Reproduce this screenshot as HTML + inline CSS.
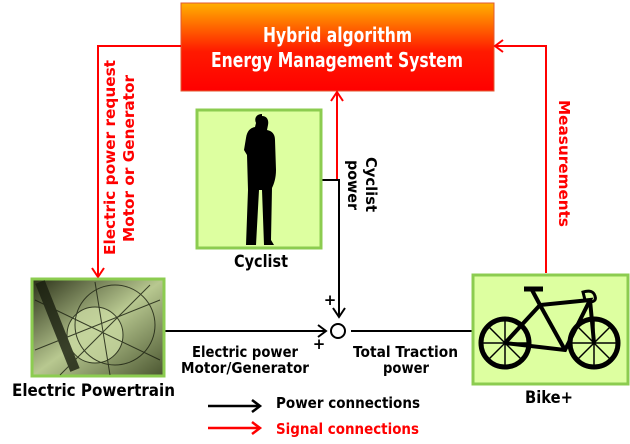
<!DOCTYPE html>
<html><head><meta charset="utf-8"><style>
html,body{margin:0;padding:0;background:#fff;width:630px;height:444px;overflow:hidden}
text{font-family:"DejaVu Sans","Liberation Sans",sans-serif;font-weight:bold}
</style></head><body>
<svg width="630" height="444" viewBox="0 0 630 444" xmlns="http://www.w3.org/2000/svg">
<defs>
<linearGradient id="g" x1="0" y1="0" x2="0" y2="1">
<stop offset="0" stop-color="#ffb000"/><stop offset="0.55" stop-color="#ff1a00"/><stop offset="1" stop-color="#ff0000"/></linearGradient>
<linearGradient id="pt" x1="0" y1="0" x2="1" y2="1">
<stop offset="0" stop-color="#2a3018"/><stop offset="0.5" stop-color="#b8c890"/><stop offset="1" stop-color="#4a5530"/></linearGradient>
</defs>
<rect x="181" y="3" width="313" height="88" fill="url(#g)" stroke="#e05a30" stroke-width="1"/>
<text x="263" y="42" fill="#fff" font-size="20" textLength="149" lengthAdjust="spacingAndGlyphs" font-family="Liberation Sans">Hybrid algorithm</text>
<text x="211" y="67" fill="#fff" font-size="20" textLength="252" lengthAdjust="spacingAndGlyphs" font-family="Liberation Sans">Energy Management System</text>
<g stroke="#ff0000" stroke-width="2" fill="none">
<polyline points="181,46 98,46 98,276"/>
<polyline points="92,268 98,277 104,268"/>
<polyline points="546,273 546,46 495,46"/>
<polyline points="503,40 495,46 503,52"/>
<line x1="337" y1="180" x2="337" y2="93"/>
<polyline points="331,101 337,92 343,101"/>
</g>
<g stroke="#000" stroke-width="2" fill="none">
<polyline points="321,180 339,180 339,316"/>
<polyline points="333,308 339,317 345,308"/>
<line x1="165" y1="331" x2="326" y2="331"/>
<polyline points="318,325 326,331 318,337"/>
<line x1="351" y1="331" x2="473" y2="331"/>
<circle cx="338" cy="331" r="7" fill="#fff"/>
</g>
<text x="330" y="305" font-size="15" text-anchor="middle">+</text>
<text x="319" y="349" font-size="15" text-anchor="middle">+</text>
<rect x="197" y="110" width="124" height="138" fill="#ddffa0" stroke="#8ccc50" stroke-width="3"/>
<path d="M262,116 c5,0 7,4 6,9 l-1,5 c5,1 8,4 8,10 l1,30 c0,8 -2,14 -4,18 l-1,52 l3,5 h-10 l-2,-55 l-3,0 l-3,55 h-10 l2,-55 l-1,-35 l-3,-5 l2,-12 c1,-7 4,-10 9,-11 l1,-4 c-2,-4 0,-9 6,-9z" fill="#000"/>
<text x="234" y="267" font-size="17" textLength="54" lengthAdjust="spacingAndGlyphs">Cyclist</text>
<rect x="32" y="279" width="132" height="97" fill="url(#pt)" stroke="#8ccc50" stroke-width="3"/>
<g stroke="#1a1f10" stroke-width="1" fill="none" opacity="0.8">
<circle cx="95" cy="335" r="28" fill="#c8d8a0"/>
<circle cx="115" cy="325" r="40"/>
<line x1="40" y1="282" x2="75" y2="370" stroke-width="10"/>
<line x1="35" y1="300" x2="160" y2="360"/><line x1="60" y1="375" x2="150" y2="285"/>
<line x1="95" y1="282" x2="110" y2="375"/><line x1="35" y1="350" x2="160" y2="300"/>
</g>
<text x="12" y="396" font-size="17" textLength="163" lengthAdjust="spacingAndGlyphs">Electric Powertrain</text>
<rect x="473" y="275" width="155" height="109" fill="#ddffa0" stroke="#8ccc50" stroke-width="3"/>
<g stroke="#000" fill="none">
<circle cx="505" cy="343" r="24" stroke-width="5"/>
<circle cx="594" cy="343" r="24" stroke-width="5"/>
<g stroke-width="1.5"><line x1="481" y1="343" x2="529" y2="343"/><line x1="505" y1="319" x2="505" y2="367"/><line x1="488" y1="326" x2="522" y2="360"/><line x1="488" y1="360" x2="522" y2="326"/>
<line x1="570" y1="343" x2="618" y2="343"/><line x1="594" y1="319" x2="594" y2="367"/><line x1="577" y1="326" x2="611" y2="360"/><line x1="577" y1="360" x2="611" y2="326"/></g>
<polyline points="505,343 540,305 590,300 565,350 505,343" stroke-width="4"/>
<line x1="540" y1="305" x2="565" y2="350" stroke-width="4"/>
<line x1="532" y1="290" x2="540" y2="305" stroke-width="4"/>
<line x1="590" y1="300" x2="594" y2="343" stroke-width="4"/>
<line x1="524" y1="289" x2="543" y2="289" stroke-width="5"/>
<path d="M585,300 l-2,-8 q10,-3 12,4 q2,6 -6,6" stroke-width="3"/>
</g>
<text x="525" y="403" font-size="17" textLength="48" lengthAdjust="spacingAndGlyphs">Bike+</text>
<text x="192" y="357" font-size="15" textLength="106" lengthAdjust="spacingAndGlyphs">Electric power</text>
<text x="181" y="373" font-size="15" textLength="128" lengthAdjust="spacingAndGlyphs">Motor/Generator</text>
<text x="353" y="357" font-size="15" textLength="105" lengthAdjust="spacingAndGlyphs">Total Traction</text>
<text x="383" y="373" font-size="15" textLength="46" lengthAdjust="spacingAndGlyphs">power</text>
<text transform="translate(366,157) rotate(90)" font-size="15" textLength="55" lengthAdjust="spacingAndGlyphs">Cyclist</text>
<text transform="translate(348,160) rotate(90)" font-size="15" textLength="50" lengthAdjust="spacingAndGlyphs">power</text>
<text transform="translate(115,255) rotate(-90)" font-size="15" fill="#ff0000" textLength="195" lengthAdjust="spacingAndGlyphs">Electric power request</text>
<text transform="translate(134,242) rotate(-90)" font-size="15" fill="#ff0000" textLength="167" lengthAdjust="spacingAndGlyphs">Motor or Generator</text>
<text transform="translate(559,100) rotate(90)" font-size="15" fill="#ff0000" textLength="127" lengthAdjust="spacingAndGlyphs">Measurements</text>
<g stroke-width="2.5" fill="none">
<line x1="208" y1="406" x2="259" y2="406" stroke="#000"/>
<polyline points="252,400 260,406 252,412" stroke="#000"/>
<line x1="208" y1="428" x2="259" y2="428" stroke="#ff0000"/>
<polyline points="252,422 260,428 252,434" stroke="#ff0000"/>
</g>
<text x="276" y="408" font-size="15" textLength="144" lengthAdjust="spacingAndGlyphs">Power connections</text>
<text x="276" y="434" font-size="15" fill="#ff0000" textLength="143" lengthAdjust="spacingAndGlyphs">Signal connections</text>
</svg>
</body></html>
